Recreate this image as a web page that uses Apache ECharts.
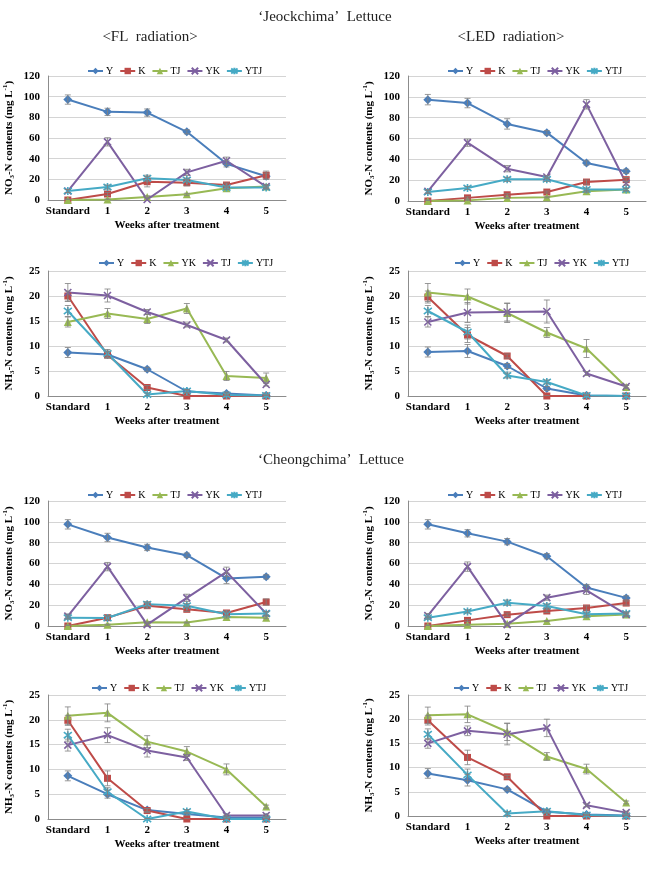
<!DOCTYPE html>
<html>
<head>
<meta charset="utf-8">
<script src="https://cdn.jsdelivr.net/npm/echarts@6/dist/echarts.min.js"></script>
<style>
html, body { margin: 0; padding: 0; background: #fff; }
#chart { width: 648px; height: 874px; }
</style>
</head>
<body>
<div id="chart"></div>
<script>
// x categories
var weeks = ['Standard', '1', '2', '3', '4', '5'];

// legend names (order as drawn in each panel)
var namesA = ['Y', 'K', 'TJ', 'YK', 'YTJ'];
var namesB = ['Y', 'K', 'YK', 'TJ', 'YTJ'];

// 'Jeockchima' FL, NO3-N
var jfNo3 = [
    [97.2, 85.3, 84.6, 66, 35, 23],
    [0, 5.8, 17.7, 16.7, 14.5, 24],
    [0, 0.5, 3, 5.5, 11.3, 13],
    [8.7, 56.3, 0.5, 26.7, 38, 13],
    [8.7, 12.5, 21, 19.3, 12, 12]
];
var jfNo3Err = [
    [4.5, 3.5, 3.5, 2, 3, 3],
    [1, 1.5, 5, 3, 2, 4],
    [0.5, 0.5, 1, 1, 1, 1],
    [1.5, 4, 1.5, 3, 3.5, 2],
    [1.5, 2, 3, 2, 1.5, 1.5]
];
// 'Jeockchima' LED, NO3-N
var jlNo3 = [
    [97.3, 94, 74, 65.6, 36.5, 28.5],
    [0, 3, 6, 8.6, 18.2, 20.5],
    [0, 0.6, 3, 3.5, 9.3, 11],
    [9.3, 56, 31, 23, 92.8, 17],
    [8.6, 12.5, 20.8, 20.8, 11, 11]
];
var jlNo3Err = [
    [5, 4.5, 5, 2, 2, 2],
    [1, 1, 1, 1, 2, 2],
    [0.5, 0.5, 0.5, 0.5, 1, 1],
    [1.5, 3.5, 3, 1.5, 4.5, 2],
    [1.5, 1.5, 2, 2, 1.5, 1.5]
];
// 'Jeockchima' FL, NH3-N (legend order Y, K, YK, TJ, YTJ)
var jfNh3 = [
    [8.7, 8.3, 5.35, 0.9, 0.5, 0.1],
    [20, 8.2, 1.7, 0, 0, 0],
    [14.8, 16.5, 15.4, 17.5, 4, 3.6],
    [20.7, 20.1, 16.8, 14.2, 11.2, 2.3],
    [17, 8.5, 0.3, 1, 0.2, 0.1]
];
var jfNh3Err = [
    [1, 0.7, 0.4, 0.3, 0.3, 0.1],
    [1, 0.6, 0.4, 0.1, 0.1, 0.1],
    [1, 1, 0.9, 1, 0.9, 1],
    [1.8, 1.3, 0.5, 0.4, 0.4, 0.3],
    [1.1, 0.8, 0.3, 0.3, 0.2, 0.1]
];
// 'Jeockchima' LED, NH3-N
var jlNh3 = [
    [8.8, 9, 6, 1.5, 0.1, 0],
    [19.8, 12.2, 8, 0, 0, 0],
    [20.7, 19.9, 16.6, 12.7, 9.5, 1.8],
    [14.8, 16.7, 16.8, 16.9, 4.5, 1.9],
    [17, 12.8, 4.1, 2.8, 0.1, 0]
];
var jlNh3Err = [
    [1, 1.3, 0.5, 0.4, 0.1, 0.1],
    [1.2, 1.5, 0.4, 0.1, 0.1, 0.1],
    [1.8, 1.5, 1.9, 1, 1.8, 0.3],
    [1, 2, 1.8, 2.3, 0.4, 0.3],
    [1.1, 1.4, 0.5, 0.4, 0.1, 0.1]
];
// 'Cheongchima' FL, NO3-N
var cfNo3 = [
    [97.6, 85, 75.4, 68, 45.7, 47.2],
    [0, 8, 19.5, 16, 12.5, 23],
    [0, 1.3, 3.5, 3.3, 8.7, 8],
    [9.5, 57, 1.3, 27, 52, 12],
    [8, 7.7, 21, 19.5, 11.3, 12]
];
var cfNo3Err = [
    [4.5, 4, 3, 2, 5, 2],
    [1, 2, 2.5, 2, 2, 3],
    [0.5, 0.5, 0.5, 0.5, 1, 1],
    [2, 4, 1.5, 3.5, 4.5, 2],
    [1.5, 1.5, 2.5, 2, 1.5, 1.5]
];
// 'Cheongchima' LED, NO3-N
var clNo3 = [
    [97.6, 89, 81, 67, 36.9, 27],
    [0, 5.4, 10.9, 14.4, 17.3, 22],
    [0, 1.3, 2.2, 4.8, 9.3, 11],
    [10, 57, 1.3, 27.2, 34.3, 11.2],
    [8, 14, 22.4, 19.2, 11.2, 12]
];
var clNo3Err = [
    [4.5, 3.5, 3, 2.5, 3, 2],
    [1, 1, 1.5, 1.5, 2, 2],
    [0.5, 0.5, 0.5, 0.5, 1, 1],
    [2, 4.5, 1.5, 2.5, 4, 2],
    [1.5, 1.5, 2.5, 2, 1.5, 1.5]
];
// 'Cheongchima' FL, NH3-N
var cfNh3 = [
    [8.7, 5, 1.8, 1, 0.3, 0.3],
    [19.9, 8.2, 1.7, 0, 0, 0],
    [20.8, 21.4, 15.6, 13.6, 10, 2.5],
    [14.9, 16.9, 13.8, 12.4, 0.7, 0.7],
    [16.9, 5.5, 0, 1.5, 0, 0]
];
var cfNh3Err = [
    [1, 0.8, 0.3, 0.3, 0.2, 0.2],
    [1, 1.5, 0.4, 0.1, 0.1, 0.1],
    [1.8, 1.8, 1.2, 1, 1.1, 0.3],
    [1.2, 1.5, 1.3, 0.6, 0.3, 0.3],
    [1.2, 0.8, 0.1, 0.4, 0.1, 0.1]
];
// 'Cheongchima' LED, NH3-N
var clNh3 = [
    [8.8, 7.4, 5.5, 0.9, 0.3, 0.1],
    [19.8, 12.1, 8.1, 0, 0, 0],
    [20.8, 21, 17.4, 12.3, 9.7, 2.8],
    [15, 17.6, 16.9, 18.2, 2.2, 0.7],
    [16.9, 8.5, 0.5, 1, 0.2, 0]
];
var clNh3Err = [
    [1, 1.2, 0.3, 0.3, 0.1, 0.1],
    [1, 1.5, 0.3, 0.1, 0.1, 0.1],
    [1.7, 1.7, 1.8, 0.8, 1, 0.3],
    [1, 1, 2.2, 1.8, 0.3, 0.3],
    [1.1, 1.2, 0.4, 0.4, 0.1, 0.1]
];

var no3Ticks = [0, 120, 20];
var nh3Ticks = [0, 25, 5];

// styles by legend position
var colors = ['#4a7ebb', '#be4b48', '#98b954', '#7d60a0', '#46aac5'];
var symbols = ['diamond', 'rect', 'triangle',
    'path://M0,0L10,10M10,0L0,10',
    'path://M0,0L10,10M10,0L0,10M5,-1.5L5,11.5'];
var symSizes = [9, 7, 8, 7, 8];
var serif = 'Liberation Serif';

var panels = [
    {names: namesA, vals: jfNo3, errs: jfNo3Err, ticks: no3Ticks, ion: 'NO', left: 48, top: 76, width: 238, height: 124, legLeft: 82, legTop: 61},
    {names: namesA, vals: jlNo3, errs: jlNo3Err, ticks: no3Ticks, ion: 'NO', left: 408, top: 76, width: 238, height: 125, legLeft: 442, legTop: 61},
    {names: namesB, vals: jfNh3, errs: jfNh3Err, ticks: nh3Ticks, ion: 'NH', left: 48, top: 271, width: 238, height: 125, legLeft: 93, legTop: 253},
    {names: namesA, vals: jlNh3, errs: jlNh3Err, ticks: nh3Ticks, ion: 'NH', left: 408, top: 271, width: 238, height: 125, legLeft: 449, legTop: 253},
    {names: namesA, vals: cfNo3, errs: cfNo3Err, ticks: no3Ticks, ion: 'NO', left: 48, top: 501, width: 238, height: 125, legLeft: 82, legTop: 485},
    {names: namesA, vals: clNo3, errs: clNo3Err, ticks: no3Ticks, ion: 'NO', left: 408, top: 501, width: 238, height: 125, legLeft: 442, legTop: 485},
    {names: namesA, vals: cfNh3, errs: cfNh3Err, ticks: nh3Ticks, ion: 'NH', left: 48, top: 695, width: 238, height: 124, legLeft: 86, legTop: 678},
    {names: namesA, vals: clNh3, errs: clNh3Err, ticks: nh3Ticks, ion: 'NH', left: 408, top: 695, width: 238, height: 121, legLeft: 448, legTop: 678}
];

function renderErr(params, api) {
    var i = api.value(0), v = api.value(1), e = api.value(2);
    var hi = api.coord([i, v + e]);
    var lo = api.coord([i, v - e]);
    var w = 3;
    var st = {stroke: '#808080', lineWidth: 0.8};
    return {
        type: 'group',
        children: [
            {type: 'line', shape: {x1: hi[0], y1: hi[1], x2: lo[0], y2: lo[1]}, style: st},
            {type: 'line', shape: {x1: hi[0] - w, y1: hi[1], x2: hi[0] + w, y2: hi[1]}, style: st},
            {type: 'line', shape: {x1: lo[0] - w, y1: lo[1], x2: lo[0] + w, y2: lo[1]}, style: st}
        ]
    };
}

var grid = [], xAxis = [], yAxis = [], legend = [], series = [];

panels.forEach(function (p, k) {
    grid.push({left: p.left, top: p.top, width: p.width, height: p.height});
    xAxis.push({
        gridIndex: k,
        type: 'category',
        data: weeks,
        boundaryGap: true,
        axisLine: {lineStyle: {color: '#8c8c8c', width: 1}},
        axisTick: {show: false},
        axisLabel: {color: '#000', fontFamily: serif, fontWeight: 'bold', fontSize: 11, margin: 6, interval: 0},
        name: 'Weeks after treatment',
        nameLocation: 'middle',
        nameGap: 20,
        nameTextStyle: {color: '#000', fontFamily: serif, fontWeight: 'bold', fontSize: 11}
    });
    yAxis.push({
        gridIndex: k,
        type: 'value',
        min: p.ticks[0],
        max: p.ticks[1],
        interval: p.ticks[2],
        axisLine: {show: true, lineStyle: {color: '#8c8c8c', width: 1}},
        axisTick: {show: false},
        splitLine: {lineStyle: {color: '#d4d4d4', width: 1}},
        axisLabel: {color: '#000', fontFamily: serif, fontWeight: 'bold', fontSize: 11, margin: 8},
        name: '{b|' + p.ion + '}{sub|3}{b|-N contents (mg L}{sup|-1}{b|)}',
        nameLocation: 'middle',
        nameGap: 32,
        nameTextStyle: {
            color: '#000',
            rich: {
                b: {fontFamily: serif, fontWeight: 'bold', fontSize: 11, lineHeight: 14, color: '#000'},
                sub: {fontFamily: serif, fontWeight: 'bold', fontSize: 7, verticalAlign: 'bottom', lineHeight: 14, color: '#000'},
                sup: {fontFamily: serif, fontWeight: 'bold', fontSize: 7, verticalAlign: 'top', lineHeight: 14, color: '#000'}
            }
        }
    });
    var legData = [];
    p.names.forEach(function (nm, s) {
        var full = k + '|' + nm;
        legData.push(full);
        var lineSer = {
            name: full,
            type: 'line',
            xAxisIndex: k,
            yAxisIndex: k,
            data: p.vals[s],
            symbol: symbols[s],
            symbolSize: symSizes[s],
            showSymbol: true,
            lineStyle: {color: colors[s], width: 2},
            itemStyle: {color: colors[s]},
            z: 3
        };
        if (s >= 3) {
            lineSer.itemStyle = {color: colors[s], borderColor: colors[s], borderWidth: 1.6};
        }
        series.push(lineSer);
        var errData = p.vals[s].map(function (v, i) { return [i, v, p.errs[s][i]]; });
        series.push({
            name: 'err' + k + '_' + s,
            type: 'custom',
            xAxisIndex: k,
            yAxisIndex: k,
            renderItem: renderErr,
            data: errData,
            clip: true,
            silent: true,
            z: 4
        });
    });
    legend.push({
        data: legData,
        left: p.legLeft,
        top: p.legTop,
        itemWidth: 15,
        itemHeight: 8,
        itemGap: 6,
        selectedMode: false,
        formatter: function (n) { return n.split('|')[1]; },
        textStyle: {color: '#000', fontFamily: serif, fontSize: 10, padding: [0, 0, 0, -2]}
    });
});

var titleFont = '15px "Liberation Serif"';
var graphic = [
    {type: 'text', x: 325, y: 17, style: {text: '\u2018Jeockchima\u2019  Lettuce', font: titleFont, fill: '#222', align: 'center', verticalAlign: 'middle'}},
    {type: 'text', x: 150, y: 37, style: {text: '<FL  radiation>', font: titleFont, fill: '#222', align: 'center', verticalAlign: 'middle'}},
    {type: 'text', x: 511, y: 37, style: {text: '<LED  radiation>', font: titleFont, fill: '#222', align: 'center', verticalAlign: 'middle'}},
    {type: 'text', x: 331, y: 460, style: {text: '\u2018Cheongchima\u2019  Lettuce', font: titleFont, fill: '#222', align: 'center', verticalAlign: 'middle'}}
];

var myChart = echarts.init(document.getElementById('chart'));
myChart.setOption({
    backgroundColor: '#fff',
    animation: false,
    grid: grid,
    xAxis: xAxis,
    yAxis: yAxis,
    legend: legend,
    graphic: graphic,
    series: series
});
</script>
</body>
</html>
